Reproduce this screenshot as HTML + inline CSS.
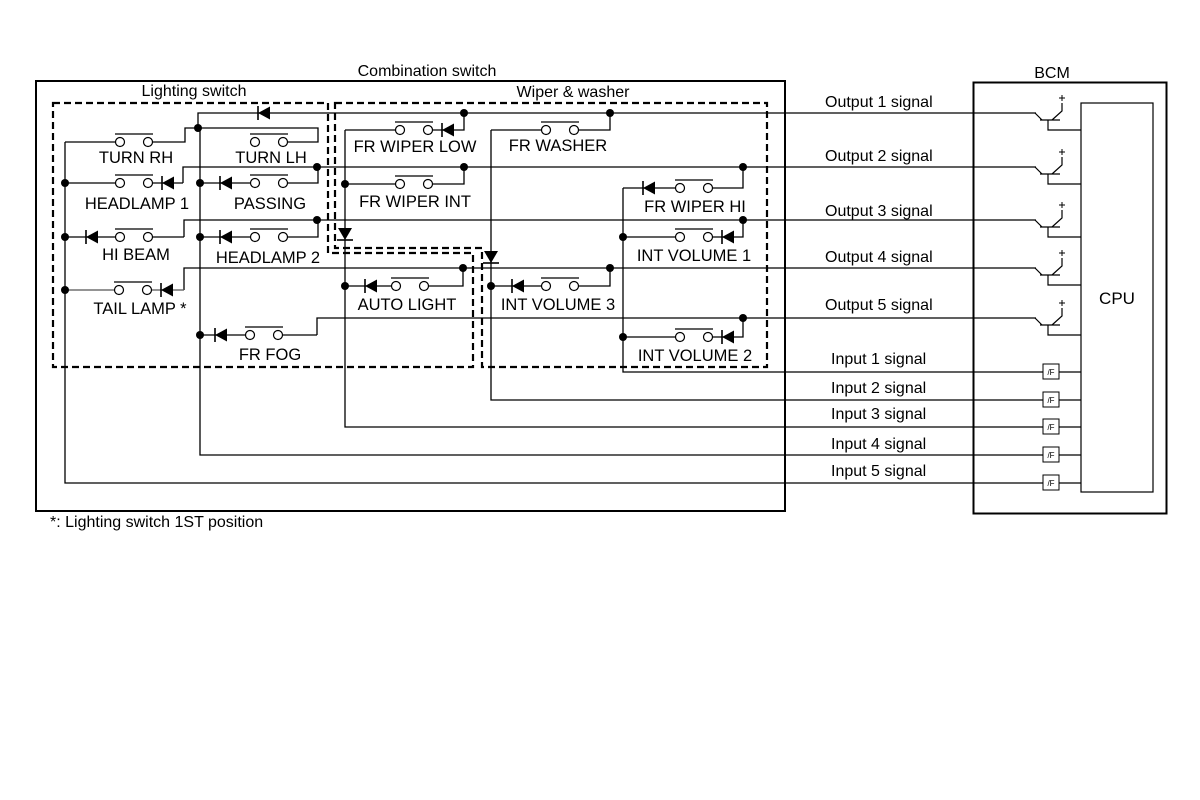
<!DOCTYPE html>
<html><head><meta charset="utf-8"><style>
html,body{margin:0;padding:0;background:#fff;}
svg{display:block;}
text{font-family:"Liberation Sans",Arial,sans-serif;fill:#000;}
</style></head><body>
<svg width="1200" height="800" viewBox="0 0 1200 800" xmlns="http://www.w3.org/2000/svg">
<defs>
<g id="sw"><line x1="4.5" y1="0" x2="23.5" y2="0" stroke="#fff" stroke-width="4"/><circle cx="0" cy="0" r="4.5" fill="#fff" stroke="#000" stroke-width="1.2"/><circle cx="28" cy="0" r="4.5" fill="#fff" stroke="#000" stroke-width="1.2"/><line x1="-5" y1="-8" x2="33" y2="-8" stroke="#000" stroke-width="1.3"/></g>
<g id="dl"><polygon points="-6,0 6,-6.5 6,6.5" fill="#000"/><line x1="-6" y1="-7" x2="-6" y2="7" stroke="#000" stroke-width="1.6"/></g>
<g id="dd"><polygon points="0,6 -7,-6 7,-6" fill="#000"/><line x1="-8" y1="6" x2="8" y2="6" stroke="#000" stroke-width="1.6"/></g>
<g id="tr" fill="none" stroke="#000" stroke-width="1.2"><path d="M-1,0 L6,7"/><path d="M4,7 H24"/><path d="M12,7 V17 H45"/><path d="M16,7 L26,-2 V-10"/><path d="M23,-15 H29 M26,-18 V-12" stroke-width="1"/></g>
<g id="if"><rect x="0" y="-8" width="16" height="15" fill="#fff" stroke="#000" stroke-width="1"/><text x="8" y="3" font-size="8" text-anchor="middle">/F</text><line x1="16" y1="0" x2="38" y2="0" stroke="#000" stroke-width="1.2"/></g>
</defs>

<rect x="36" y="81" width="749" height="430" fill="none" stroke="#000" stroke-width="2"/>
<rect x="973.5" y="82.5" width="193" height="431" fill="none" stroke="#000" stroke-width="2"/>
<rect x="1081" y="103" width="72" height="389" fill="none" stroke="#000" stroke-width="1.2"/>

<g fill="none" stroke="#000" stroke-width="2.2" stroke-dasharray="7,4">
<path d="M53,103 H328 V253 H473 V367 H53 Z"/>
<path d="M335,103 H767 V367 H482 V248 H335 Z"/>
</g>

<g font-size="16">
<text x="427" y="76" text-anchor="middle">Combination switch</text>
<text x="194" y="96" text-anchor="middle">Lighting switch</text>
<text x="573" y="97" text-anchor="middle">Wiper &amp; washer</text>
<text x="1052" y="78" text-anchor="middle">BCM</text>
<text x="1117" y="304" text-anchor="middle" font-size="17">CPU</text>
<text x="50" y="527">*: Lighting switch 1ST position</text>
</g>
<g font-size="16.5">
<text x="136" y="163" text-anchor="middle">TURN RH</text>
<text x="271" y="163" text-anchor="middle">TURN LH</text>
<text x="137" y="209" text-anchor="middle">HEADLAMP 1</text>
<text x="270" y="209" text-anchor="middle">PASSING</text>
<text x="136" y="260" text-anchor="middle">HI BEAM</text>
<text x="268" y="263" text-anchor="middle">HEADLAMP 2</text>
<text x="140" y="314" text-anchor="middle">TAIL LAMP *</text>
<text x="270" y="360" text-anchor="middle">FR FOG</text>
<text x="415" y="152" text-anchor="middle">FR WIPER LOW</text>
<text x="558" y="151" text-anchor="middle">FR WASHER</text>
<text x="415" y="207" text-anchor="middle">FR WIPER INT</text>
<text x="695" y="212" text-anchor="middle">FR WIPER HI</text>
<text x="694" y="261" text-anchor="middle">INT VOLUME 1</text>
<text x="407" y="310" text-anchor="middle">AUTO LIGHT</text>
<text x="558" y="310" text-anchor="middle">INT VOLUME 3</text>
<text x="695" y="361" text-anchor="middle">INT VOLUME 2</text>
</g>
<g font-size="16">
<text x="825" y="107">Output 1 signal</text>
<text x="825" y="161">Output 2 signal</text>
<text x="825" y="216">Output 3 signal</text>
<text x="825" y="262">Output 4 signal</text>
<text x="825" y="310">Output 5 signal</text>
<text x="831" y="364">Input 1 signal</text>
<text x="831" y="393">Input 2 signal</text>
<text x="831" y="419">Input 3 signal</text>
<text x="831" y="449">Input 4 signal</text>
<text x="831" y="476">Input 5 signal</text>
</g>

<g fill="none" stroke="#000" stroke-width="1.3">
<path d="M198,128 V113 H1036"/>
<path d="M183,183 V167 H1036"/>
<path d="M184,237 V220 H1036"/>
<path d="M184,290 V268 H1036"/>
<path d="M317,335 V318 H1036"/>
<path d="M65,142 V483 H1043"/>
<path d="M200,128 V455 H1043"/>
<path d="M345,130 V427 H1043"/>
<path d="M491,130 V400 H1043"/>
<path d="M623,188 V372 H1043"/>
<path d="M65,142 H148 H185 V128 H318 V142 H255"/>
<path d="M65,183 H148 H183"/>
<path d="M200,183 H283 H318 V167"/>
<path d="M65,237 H148 H184"/>
<path d="M200,237 H283 H318 V220"/>
<path d="M65,290 H147 H184" stroke="#555"/>
<path d="M200,335 H278 H317"/>
<path d="M464,113 V130 H345"/>
<path d="M345,184 H464 V167"/>
<path d="M345,286 H463 V268"/>
<path d="M610,113 V130 H491"/>
<path d="M491,286 H610 V268"/>
<path d="M743,167 V188 H623"/>
<path d="M623,237 H743 V220"/>
<path d="M623,337 H743 V318"/>
</g>

<use href="#sw" x="120" y="142"/><use href="#sw" x="255" y="142"/>
<use href="#sw" x="120" y="183"/><use href="#sw" x="255" y="183"/>
<use href="#sw" x="120" y="237"/><use href="#sw" x="255" y="237"/>
<use href="#sw" x="119" y="290"/><use href="#sw" x="250" y="335"/>
<use href="#sw" x="400" y="130"/><use href="#sw" x="546" y="130"/>
<use href="#sw" x="400" y="184"/><use href="#sw" x="680" y="188"/>
<use href="#sw" x="680" y="237"/><use href="#sw" x="396" y="286"/>
<use href="#sw" x="546" y="286"/><use href="#sw" x="680" y="337"/>

<use href="#dl" x="264" y="113"/>
<use href="#dl" x="168" y="183"/><use href="#dl" x="226" y="183"/>
<use href="#dl" x="92" y="237"/><use href="#dl" x="226" y="237"/>
<use href="#dl" x="167" y="290"/><use href="#dl" x="221" y="335"/>
<use href="#dl" x="448" y="130"/><use href="#dl" x="371" y="286"/>
<use href="#dl" x="518" y="286"/><use href="#dl" x="649" y="188"/>
<use href="#dl" x="728" y="237"/><use href="#dl" x="728" y="337"/>
<use href="#dd" x="345" y="234"/><use href="#dd" x="491" y="257"/>

<g fill="#000">
<circle cx="198" cy="128" r="4"/><circle cx="65" cy="183" r="4"/><circle cx="200" cy="183" r="4"/>
<circle cx="317" cy="167" r="4"/><circle cx="65" cy="237" r="4"/><circle cx="200" cy="237" r="4"/>
<circle cx="317" cy="220" r="4"/><circle cx="65" cy="290" r="4"/><circle cx="200" cy="335" r="4"/>
<circle cx="464" cy="113" r="4"/><circle cx="610" cy="113" r="4"/><circle cx="345" cy="184" r="4"/>
<circle cx="464" cy="167" r="4"/><circle cx="743" cy="167" r="4"/><circle cx="623" cy="237" r="4"/>
<circle cx="743" cy="220" r="4"/><circle cx="345" cy="286" r="4"/><circle cx="463" cy="268" r="4"/>
<circle cx="491" cy="286" r="4"/><circle cx="610" cy="268" r="4"/><circle cx="623" cy="337" r="4"/>
<circle cx="743" cy="318" r="4"/>
</g>

<use href="#tr" x="1036" y="113"/><use href="#tr" x="1036" y="167"/>
<use href="#tr" x="1036" y="220"/><use href="#tr" x="1036" y="268"/>
<use href="#tr" x="1036" y="318"/>
<use href="#if" x="1043" y="372"/><use href="#if" x="1043" y="400"/>
<use href="#if" x="1043" y="427"/><use href="#if" x="1043" y="455"/>
<use href="#if" x="1043" y="483"/>
</svg>
</body></html>
